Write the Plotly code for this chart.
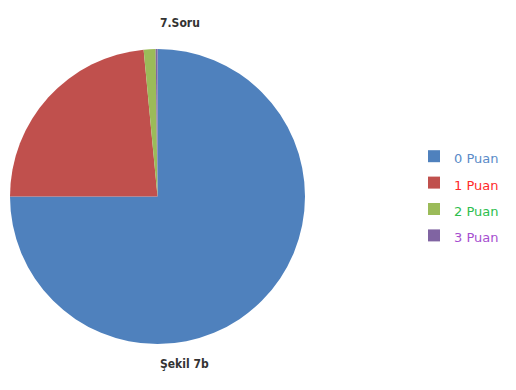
import plotly.graph_objects as go

# Score distribution for question 7
categories = ["0 Puan", "1 Puan", "2 Puan", "3 Puan"]
shares = [75.0, 23.5, 1.3, 0.2]
slice_colors = ["#4F81BD", "#C0504D", "#9BBB59", "#8064A2"]
label_colors = ["#5A8BC8", "#FF2A2A", "#2DBE4E", "#A64FD0"]

legend_labels = [
    f"<span style='color:{c};font-size:13px'>{name}</span>"
    for name, c in zip(categories, label_colors)
]

W, H = 516, 390

fig = go.Figure(
    go.Pie(
        labels=legend_labels,
        values=shares,
        sort=False,
        direction="clockwise",
        rotation=0,
        textinfo="none",
        hoverinfo="skip",
        marker=dict(colors=slice_colors, line=dict(width=0)),
        domain=dict(x=[10 / W, 305 / W], y=[1 - 344 / H, 1 - 49 / H]),
    )
)

fig.add_annotation(
    text="<b>7.Soru</b>", x=158 / W, y=1 - 14 / H, xref="paper", yref="paper",
    showarrow=False, font=dict(family="DejaVu Sans Condensed, DejaVu Sans", size=12, color="#333333"),
)
fig.add_annotation(
    text="<b>Şekil 7b</b>", x=158 / W, y=1 - 373 / H, xref="paper", yref="paper",
    showarrow=False, font=dict(family="DejaVu Sans Condensed, DejaVu Sans", size=12, color="#333333"),
)

fig.update_layout(
    width=W,
    height=H,
    margin=dict(l=0, r=0, t=0, b=0),
    paper_bgcolor="white",
    plot_bgcolor="white",
    showlegend=True,
    legend=dict(
        x=414 / W, y=1 - 196 / H, xanchor="left", yanchor="middle",
        font=dict(family="DejaVu Sans", size=18, color="#4F81BD"),
        itemwidth=30,
    ),
)

fig.write_html("out.html")
